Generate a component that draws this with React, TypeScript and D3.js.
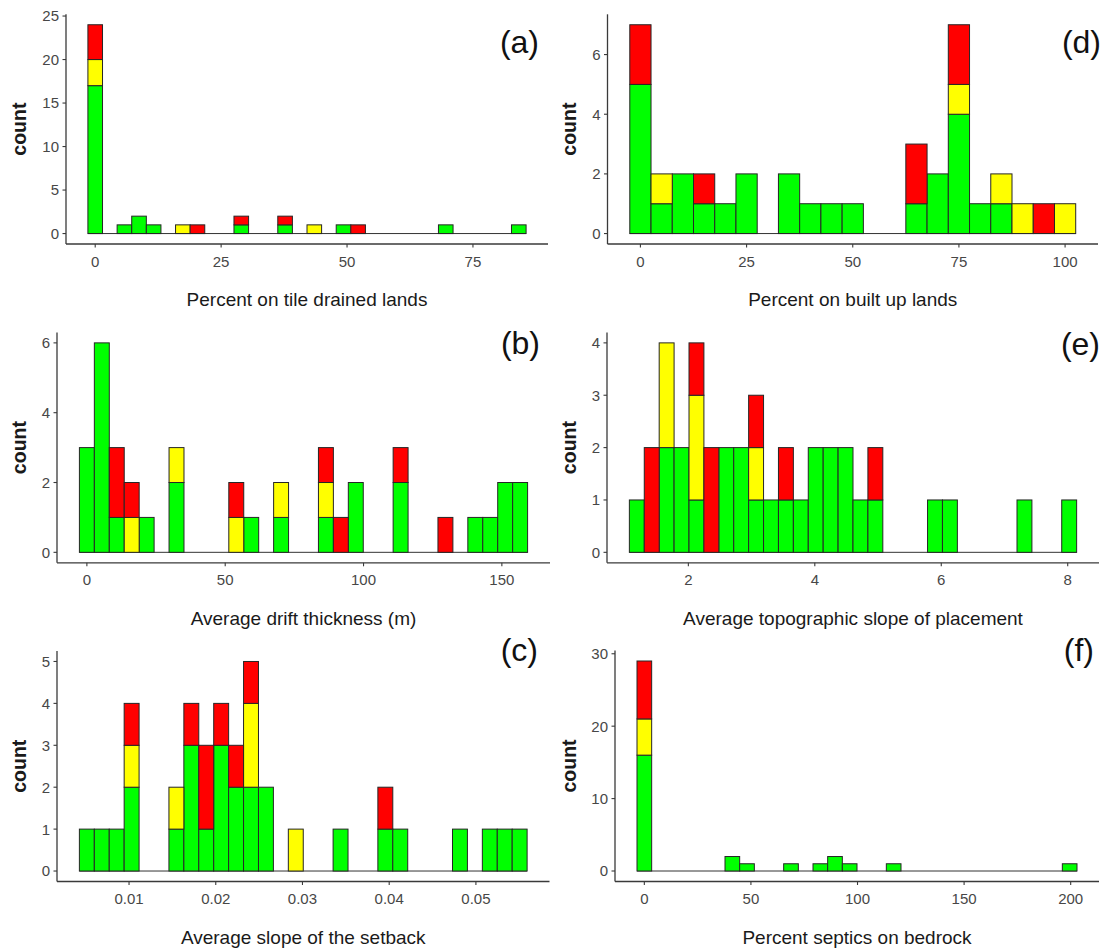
import React from "react";
import * as d3 from "d3";

// ---------- Data (bin index, stacked counts per category) ----------
// (a) Percent on tile drained lands
const aBins = [0, 2, 3, 4, 6, 7, 10, 13, 15, 17, 18, 24, 29];
const aGreen = [17, 1, 2, 1, 0, 0, 1, 1, 0, 1, 0, 1, 1];
const aYellow = [3, 0, 0, 0, 1, 0, 0, 0, 1, 0, 0, 0, 0];
const aRed = [4, 0, 0, 0, 0, 1, 1, 1, 0, 0, 1, 0, 0];
const aXTicks = [0, 25, 50, 75];
const aYTicks = [0, 5, 10, 15, 20, 25];

// (d) Percent on built up lands
const dBins = [0, 1, 2, 3, 4, 5, 7, 8, 9, 10, 13, 14, 15, 16, 17, 18, 19, 20];
const dGreen = [5, 1, 2, 1, 1, 2, 2, 1, 1, 1, 1, 2, 4, 1, 1, 0, 0, 0];
const dYellow = [0, 1, 0, 0, 0, 0, 0, 0, 0, 0, 0, 0, 1, 0, 1, 1, 0, 1];
const dRed = [2, 0, 0, 1, 0, 0, 0, 0, 0, 0, 2, 0, 2, 0, 0, 0, 1, 0];
const dXTicks = [0, 25, 50, 75, 100];
const dYTicks = [0, 2, 4, 6];

// (b) Average drift thickness (m)
const bBins = [0, 1, 2, 3, 4, 6, 10, 11, 13, 16, 17, 18, 21, 24, 26, 27, 28, 29];
const bGreen = [3, 6, 1, 0, 1, 2, 0, 1, 1, 1, 0, 2, 2, 0, 1, 1, 2, 2];
const bYellow = [0, 0, 0, 1, 0, 1, 1, 0, 1, 1, 0, 0, 0, 0, 0, 0, 0, 0];
const bRed = [0, 0, 2, 1, 0, 0, 1, 0, 0, 1, 1, 0, 1, 1, 0, 0, 0, 0];
const bXTicks = [0, 50, 100, 150];
const bYTicks = [0, 2, 4, 6];

// (e) Average topographic slope of placement
const eBins = [0, 1, 2, 3, 4, 5, 6, 7, 8, 9, 10, 11, 12, 13, 14, 15, 16, 20, 21, 26, 29];
const eGreen = [1, 0, 2, 2, 1, 0, 2, 2, 1, 1, 1, 1, 2, 2, 2, 1, 1, 1, 1, 1, 1];
const eYellow = [0, 0, 2, 0, 2, 0, 0, 0, 1, 0, 0, 0, 0, 0, 0, 0, 0, 0, 0, 0, 0];
const eRed = [0, 2, 0, 0, 1, 2, 0, 0, 1, 0, 1, 0, 0, 0, 0, 0, 1, 0, 0, 0, 0];
const eXTicks = [2, 4, 6, 8];
const eYTicks = [0, 1, 2, 3, 4];

// (c) Average slope of the setback
const cBins = [0, 1, 2, 3, 6, 7, 8, 9, 10, 11, 12, 14, 17, 20, 21, 25, 27, 28, 29];
const cGreen = [1, 1, 1, 2, 1, 3, 1, 3, 2, 2, 2, 0, 1, 1, 1, 1, 1, 1, 1];
const cYellow = [0, 0, 0, 1, 1, 0, 0, 0, 0, 2, 0, 1, 0, 0, 0, 0, 0, 0, 0];
const cRed = [0, 0, 0, 1, 0, 1, 2, 1, 1, 1, 0, 0, 0, 1, 0, 0, 0, 0, 0];
const cXTicks = [0.01, 0.02, 0.03, 0.04, 0.05];
const cYTicks = [0, 1, 2, 3, 4, 5];

// (f) Percent septics on bedrock
const fBins = [0, 6, 7, 10, 12, 13, 14, 17, 29];
const fGreen = [16, 2, 1, 1, 1, 2, 1, 1, 1];
const fYellow = [5, 0, 0, 0, 0, 0, 0, 0, 0];
const fRed = [8, 0, 0, 0, 0, 0, 0, 0, 0];
const fXTicks = [0, 50, 100, 150, 200];
const fYTicks = [0, 10, 20, 30];

// bin geometry: first bin centre, bin width, number of bins
const BIN_GEOM = {
  a: { start: 0, width: 2.9, n: 30 },
  d: { start: 0, width: 5, n: 21 },
  b: { start: 0, width: 5.4, n: 30 },
  e: { start: 1.185, width: 0.2358, n: 30 },
  c: { start: 0.005135, width: 0.001721, n: 30 },
  f: { start: 0, width: 6.88, n: 30 },
};

// ---------- Layout ----------
const W = 1109;
const H = 952;
const FONT = "'Liberation Sans', Arial, Helvetica, sans-serif";
const COLORS = { green: "#00ff00", yellow: "#ffff00", red: "#ff0000" };
const KEYS = ["green", "yellow", "red"] as const;

type Spec = {
  id: keyof typeof BIN_GEOM;
  bins: number[];
  green: number[];
  yellow: number[];
  red: number[];
  xTicks: number[];
  yTicks: number[];
  title: string;
  letter: string;
  box: { left: number; right: number; top: number; bottom: number };
  yLabelX: number;
  letterX: number;
  letterY: number;
};

const PANELS: Spec[] = [
  {
    id: "a", bins: aBins, green: aGreen, yellow: aYellow, red: aRed,
    xTicks: aXTicks, yTicks: aYTicks, title: "Percent on tile drained lands", letter: "(a)",
    box: { left: 66, right: 548, top: 14.3, bottom: 244 }, yLabelX: 26, letterX: 539, letterY: 53,
  },
  {
    id: "d", bins: dBins, green: dGreen, yellow: dYellow, red: dRed,
    xTicks: dXTicks, yTicks: dYTicks, title: "Percent on built up lands", letter: "(d)",
    box: { left: 607.5, right: 1098, top: 14.3, bottom: 244 }, yLabelX: 575.5, letterX: 1101, letterY: 53,
  },
  {
    id: "b", bins: bBins, green: bGreen, yellow: bYellow, red: bRed,
    xTicks: bXTicks, yTicks: bYTicks, title: "Average drift thickness (m)", letter: "(b)",
    box: { left: 57, right: 550, top: 332.4, bottom: 562.8 }, yLabelX: 26, letterX: 540, letterY: 354,
  },
  {
    id: "e", bins: eBins, green: eGreen, yellow: eYellow, red: eRed,
    xTicks: eXTicks, yTicks: eYTicks, title: "Average topographic slope of placement", letter: "(e)",
    box: { left: 607, right: 1099, top: 332.4, bottom: 562.8 }, yLabelX: 575.5, letterX: 1100, letterY: 355,
  },
  {
    id: "c", bins: cBins, green: cGreen, yellow: cYellow, red: cRed,
    xTicks: cXTicks, yTicks: cYTicks, title: "Average slope of the setback", letter: "(c)",
    box: { left: 57, right: 549.5, top: 651, bottom: 881.5 }, yLabelX: 26, letterX: 538, letterY: 661,
  },
  {
    id: "f", bins: fBins, green: fGreen, yellow: fYellow, red: fRed,
    xTicks: fXTicks, yTicks: fYTicks, title: "Percent septics on bedrock", letter: "(f)",
    box: { left: 615, right: 1099, top: 650.5, bottom: 881.5 }, yLabelX: 575.5, letterX: 1094, letterY: 661,
  },
];

function Panel({ spec }: { spec: Spec }) {
  const g = BIN_GEOM[spec.id];
  const { left, right, top, bottom } = spec.box;
  const lo = g.start - g.width / 2;
  const hi = g.start + (g.n - 1) * g.width + g.width / 2;
  const xpad = (hi - lo) * 0.05;
  const x = d3.scaleLinear().domain([lo - xpad, hi + xpad]).range([left, right]);

  const rows = spec.bins.map((b, i) => ({
    center: g.start + b * g.width,
    green: spec.green[i],
    yellow: spec.yellow[i],
    red: spec.red[i],
  }));
  const maxY = d3.max(rows, (r) => r.green + r.yellow + r.red) as number;
  const y = d3.scaleLinear().domain([-0.05 * maxY, 1.05 * maxY]).range([bottom, top]);
  const stacked = d3.stack<any>().keys(KEYS as unknown as string[])(rows);

  const fmtX = spec.id === "c" ? d3.format(".2f") : d3.format("d");
  const fmtY = d3.format("d");
  const cx = (left + right) / 2;
  const cy = (top + bottom) / 2;
  const axisColor = "#3a3a3a";
  const tickColor = "#474747";

  return (
    <g>
      {/* zero line across the bin range */}
      <line x1={x(lo)} x2={x(hi)} y1={y(0)} y2={y(0)} stroke="#333" strokeWidth={1} />
      {stacked.map((layer) => (
        <g key={layer.key}>
          {layer.map((seg, i) => {
            const h = seg[1] - seg[0];
            if (h <= 0) return null;
            const c = rows[i].center;
            const x0 = x(c - g.width / 2);
            const x1 = x(c + g.width / 2);
            return (
              <rect
                key={i}
                x={x0}
                y={y(seg[1])}
                width={x1 - x0}
                height={y(seg[0]) - y(seg[1])}
                fill={(COLORS as any)[layer.key]}
                stroke="#262626"
                strokeWidth={1}
              />
            );
          })}
        </g>
      ))}
      {/* axes */}
      <line x1={left} x2={right} y1={bottom} y2={bottom} stroke={axisColor} strokeWidth={1.3} />
      <line x1={left} x2={left} y1={top} y2={bottom} stroke={axisColor} strokeWidth={1.3} />
      {spec.yTicks.map((t) => (
        <g key={"y" + t}>
          <line x1={left - 3.5} x2={left} y1={y(t)} y2={y(t)} stroke={axisColor} strokeWidth={1.1} />
          <text
            x={left - 7}
            y={y(t)}
            dy="0.36em"
            textAnchor="end"
            fontSize={15}
            fontFamily={FONT}
            fill={tickColor}
          >
            {fmtY(t)}
          </text>
        </g>
      ))}
      {spec.xTicks.map((t) => (
        <g key={"x" + t}>
          <line x1={x(t)} x2={x(t)} y1={bottom} y2={bottom + 3.5} stroke={axisColor} strokeWidth={1.1} />
          <text
            x={x(t)}
            y={bottom + 22.5}
            textAnchor="middle"
            fontSize={15}
            fontFamily={FONT}
            fill={tickColor}
          >
            {fmtX(t)}
          </text>
        </g>
      ))}
      <text x={cx} y={bottom + 62} textAnchor="middle" fontSize={19} fontFamily={FONT} fill="#1a1a1a">
        {spec.title}
      </text>
      <text
        transform={`translate(${spec.yLabelX},${cy}) rotate(-90)`}
        textAnchor="middle"
        fontSize={19.5}
        fontWeight="bold"
        fontFamily={FONT}
        fill="#1a1a1a"
      >
        count
      </text>
      <text x={spec.letterX} y={spec.letterY} textAnchor="end" fontSize={32} fontFamily={FONT} fill="#111">
        {spec.letter}
      </text>
    </g>
  );
}

export default function App() {
  return (
    <svg
      width={W}
      height={H}
      viewBox={`0 0 ${W} ${H}`}
      style={{ position: "absolute", left: 0, top: 0, background: "#fff" }}
    >
      <rect x={0} y={0} width={W} height={H} fill="#fff" />
      {PANELS.map((p) => (
        <Panel key={p.id} spec={p} />
      ))}
    </svg>
  );
}
